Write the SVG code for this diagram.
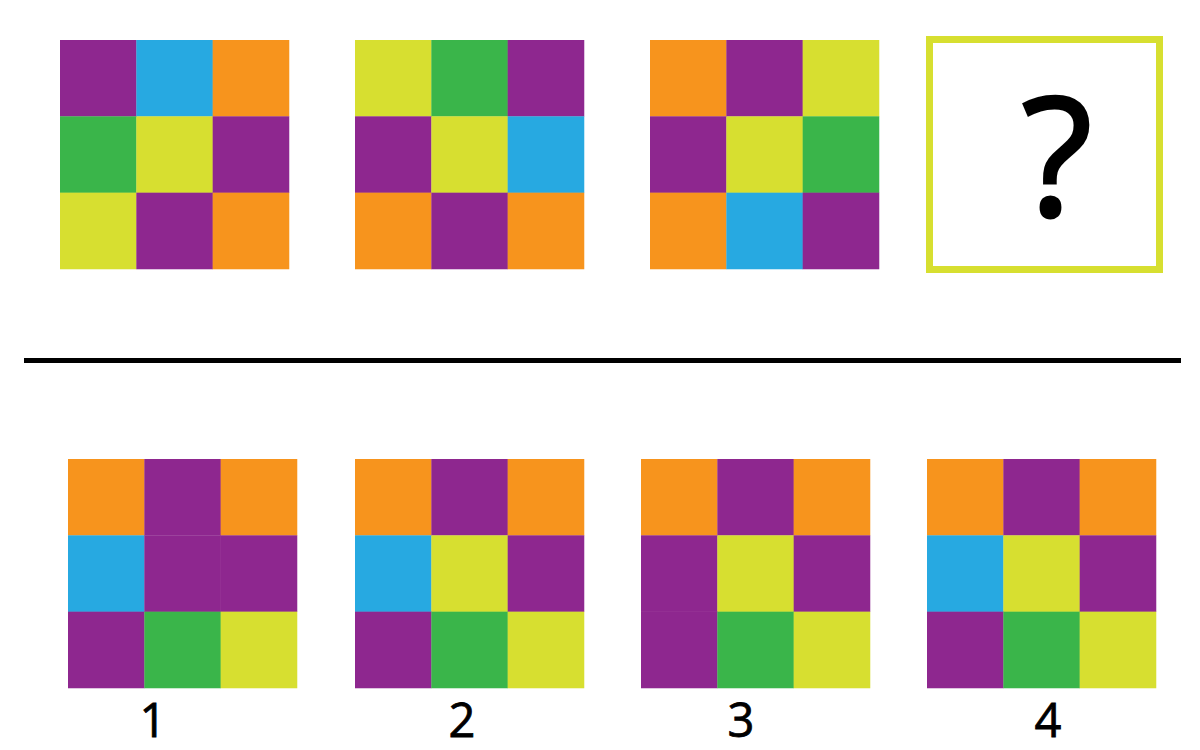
<svg xmlns="http://www.w3.org/2000/svg" width="1200" height="750" viewBox="0 0 1200 750">
<style>
.p{fill:#8E278F}.b{fill:#27A9E1}.o{fill:#F7941D}.g{fill:#3AB54A}.y{fill:#D7DF30}
.lbl{font-family:"Open Sans","Noto Sans",sans-serif;font-size:47px;fill:#000;stroke:#000;stroke-width:0.8;text-anchor:middle}
</style>
<defs>
<rect id="c" width="76.6" height="76.6"/>
</defs>
<rect width="1200" height="750" fill="#fff"/>
<g id="q1" transform="translate(60,40)">
<use href="#c" class="p" x="0" y="0"/><use href="#c" class="b" x="76.33" y="0"/><use href="#c" class="o" x="152.67" y="0"/>
<use href="#c" class="g" x="0" y="76.33"/><use href="#c" class="y" x="76.33" y="76.33"/><use href="#c" class="p" x="152.67" y="76.33"/>
<use href="#c" class="y" x="0" y="152.67"/><use href="#c" class="p" x="76.33" y="152.67"/><use href="#c" class="o" x="152.67" y="152.67"/>
</g>
<g id="q2" transform="translate(355,40)">
<use href="#c" class="y" x="0" y="0"/><use href="#c" class="g" x="76.33" y="0"/><use href="#c" class="p" x="152.67" y="0"/>
<use href="#c" class="p" x="0" y="76.33"/><use href="#c" class="y" x="76.33" y="76.33"/><use href="#c" class="b" x="152.67" y="76.33"/>
<use href="#c" class="o" x="0" y="152.67"/><use href="#c" class="p" x="76.33" y="152.67"/><use href="#c" class="o" x="152.67" y="152.67"/>
</g>
<g id="q3" transform="translate(650,40)">
<use href="#c" class="o" x="0" y="0"/><use href="#c" class="p" x="76.33" y="0"/><use href="#c" class="y" x="152.67" y="0"/>
<use href="#c" class="p" x="0" y="76.33"/><use href="#c" class="y" x="76.33" y="76.33"/><use href="#c" class="g" x="152.67" y="76.33"/>
<use href="#c" class="o" x="0" y="152.67"/><use href="#c" class="b" x="76.33" y="152.67"/><use href="#c" class="p" x="152.67" y="152.67"/>
</g>
<g id="q4">
<rect x="929.5" y="39.5" width="230" height="230" fill="#fff" stroke="#D7DF30" stroke-width="7"/>
<text x="1057" y="216" font-family="'Open Sans','Noto Sans',sans-serif" font-size="164" text-anchor="middle" fill="#000" stroke="#000" stroke-width="3">?</text>
</g>
<g id="divider">
<rect x="24" y="358" width="1157" height="5" fill="#000"/>
</g>
<g id="a1" transform="translate(68,459)">
<use href="#c" class="o" x="0" y="0"/><use href="#c" class="p" x="76.33" y="0"/><use href="#c" class="o" x="152.67" y="0"/>
<use href="#c" class="b" x="0" y="76.33"/><use href="#c" class="p" x="76.33" y="76.33"/><use href="#c" class="p" x="152.67" y="76.33"/>
<use href="#c" class="p" x="0" y="152.67"/><use href="#c" class="g" x="76.33" y="152.67"/><use href="#c" class="y" x="152.67" y="152.67"/>
<text class="lbl" x="85" y="278">1</text>
</g>
<g id="a2" transform="translate(355,459)">
<use href="#c" class="o" x="0" y="0"/><use href="#c" class="p" x="76.33" y="0"/><use href="#c" class="o" x="152.67" y="0"/>
<use href="#c" class="b" x="0" y="76.33"/><use href="#c" class="y" x="76.33" y="76.33"/><use href="#c" class="p" x="152.67" y="76.33"/>
<use href="#c" class="p" x="0" y="152.67"/><use href="#c" class="g" x="76.33" y="152.67"/><use href="#c" class="y" x="152.67" y="152.67"/>
<text class="lbl" x="107" y="278">2</text>
</g>
<g id="a3" transform="translate(641,459)">
<use href="#c" class="o" x="0" y="0"/><use href="#c" class="p" x="76.33" y="0"/><use href="#c" class="o" x="152.67" y="0"/>
<use href="#c" class="p" x="0" y="76.33"/><use href="#c" class="y" x="76.33" y="76.33"/><use href="#c" class="p" x="152.67" y="76.33"/>
<use href="#c" class="p" x="0" y="152.67"/><use href="#c" class="g" x="76.33" y="152.67"/><use href="#c" class="y" x="152.67" y="152.67"/>
<text class="lbl" x="100" y="278">3</text>
</g>
<g id="a4" transform="translate(927,459)">
<use href="#c" class="o" x="0" y="0"/><use href="#c" class="p" x="76.33" y="0"/><use href="#c" class="o" x="152.67" y="0"/>
<use href="#c" class="b" x="0" y="76.33"/><use href="#c" class="y" x="76.33" y="76.33"/><use href="#c" class="p" x="152.67" y="76.33"/>
<use href="#c" class="p" x="0" y="152.67"/><use href="#c" class="g" x="76.33" y="152.67"/><use href="#c" class="y" x="152.67" y="152.67"/>
<text class="lbl" x="121" y="278">4</text>
</g>
</svg>
